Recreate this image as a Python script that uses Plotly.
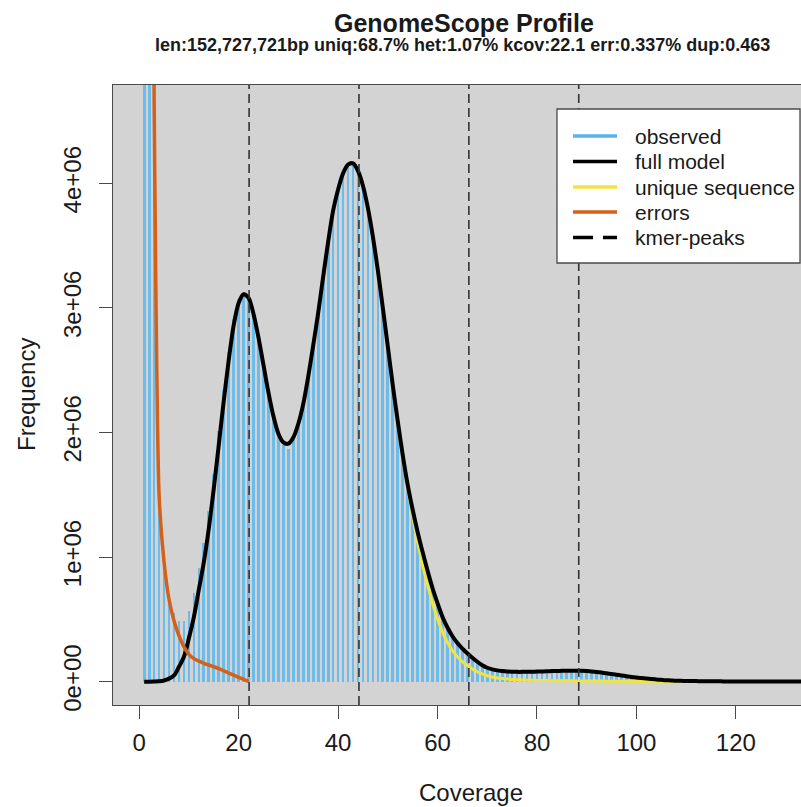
import plotly.graph_objects as go

# ---------------- data (frequencies in millions of k-mers) ----------------
coverage = list(range(1, 136))

observed = [
    45.0, 14.0, 4.60, 1.52, 0.98, 0.69, 0.55, 0.49, 0.49, 0.57,
    0.71, 0.91, 1.11, 1.37, 1.67, 2.01, 2.34, 2.65, 2.91, 3.07,
    3.12, 3.08, 2.95, 2.75, 2.53, 2.31, 2.12, 1.98, 1.90, 1.87,
    1.94, 2.06, 2.23, 2.45, 2.70, 2.95, 3.25, 3.53, 3.78, 3.95,
    4.08, 4.15, 4.16, 4.10, 3.98, 3.80, 3.57, 3.30, 3.00, 2.69,
    2.38, 2.09, 1.82, 1.57, 1.37, 1.19, 1.03, 0.88, 0.74, 0.62,
    0.51, 0.42, 0.35, 0.30, 0.25, 0.22, 0.18, 0.15, 0.125, 0.105,
    0.093, 0.086, 0.081, 0.078, 0.076, 0.075, 0.075, 0.076, 0.077, 0.078,
    0.079, 0.080, 0.081, 0.082, 0.083, 0.084, 0.084, 0.084, 0.083, 0.081,
    0.078, 0.074, 0.069, 0.064, 0.058, 0.053, 0.047, 0.041, 0.036, 0.031,
    0.027, 0.023, 0.020, 0.017, 0.014, 0.012, 0.010, 0.008, 0.007, 0.006,
    0.005, 0.005, 0.004, 0.004, 0.003, 0.003, 0.003, 0.002, 0.002, 0.002,
    0.002, 0.001, 0.001, 0.001, 0.001, 0.001, 0.001, 0.001, 0.001, 0.001,
    0.001, 0.001, 0.001, 0.001, 0.001,
]

full_model = [
    0.000, 0.000, 0.001, 0.003, 0.010, 0.025, 0.050, 0.120, 0.200, 0.350,
    0.520, 0.740, 0.960, 1.230, 1.550, 1.900, 2.250, 2.580, 2.860, 3.040,
    3.110, 3.080, 2.950, 2.760, 2.540, 2.320, 2.130, 1.990, 1.920, 1.910,
    1.960, 2.070, 2.230, 2.450, 2.700, 2.960, 3.250, 3.530, 3.780, 3.950,
    4.080, 4.150, 4.160, 4.100, 3.980, 3.800, 3.570, 3.300, 3.000, 2.690,
    2.380, 2.090, 1.820, 1.580, 1.380, 1.200, 1.040, 0.890, 0.750, 0.630,
    0.520, 0.435, 0.365, 0.310, 0.265, 0.228, 0.192, 0.160, 0.132, 0.112,
    0.099, 0.091, 0.086, 0.082, 0.080, 0.079, 0.079, 0.080, 0.080, 0.081,
    0.082, 0.083, 0.085, 0.086, 0.087, 0.088, 0.088, 0.088, 0.087, 0.085,
    0.082, 0.078, 0.073, 0.067, 0.062, 0.056, 0.050, 0.044, 0.038, 0.033,
    0.029, 0.025, 0.021, 0.018, 0.015, 0.012, 0.010, 0.008, 0.007, 0.006,
    0.005, 0.005, 0.004, 0.004, 0.003, 0.003, 0.003, 0.002, 0.002, 0.002,
    0.002, 0.001, 0.001, 0.001, 0.001, 0.001, 0.001, 0.001, 0.001, 0.001,
    0.001, 0.001, 0.001, 0.001, 0.001,
]

unique_sequence = [
    0.000, 0.000, 0.001, 0.003, 0.010, 0.025, 0.050, 0.120, 0.200, 0.350,
    0.520, 0.740, 0.960, 1.230, 1.550, 1.900, 2.250, 2.580, 2.860, 3.040,
    3.110, 3.080, 2.950, 2.760, 2.540, 2.320, 2.130, 1.990, 1.920, 1.910,
    1.960, 2.070, 2.230, 2.450, 2.700, 2.960, 3.250, 3.530, 3.780, 3.950,
    4.080, 4.150, 4.160, 4.100, 3.980, 3.800, 3.570, 3.300, 3.000, 2.690,
    2.380, 2.085, 1.805, 1.550, 1.325, 1.120, 0.935, 0.775, 0.630, 0.505,
    0.400, 0.315, 0.250, 0.200, 0.162, 0.130, 0.103, 0.080, 0.062, 0.048,
    0.038, 0.030, 0.025, 0.021, 0.018, 0.016, 0.014, 0.012, 0.011, 0.010,
    0.009, 0.009, 0.008, 0.008, 0.007, 0.007, 0.007, 0.006, 0.006, 0.006,
    0.005, 0.005, 0.005, 0.004, 0.004, 0.004, 0.004, 0.003, 0.003, 0.003,
    0.003, 0.002, 0.002, 0.002, 0.002, 0.002, 0.002, 0.002, 0.001, 0.001,
    0.001, 0.001, 0.001, 0.001, 0.001, 0.001, 0.001, 0.001, 0.001, 0.001,
    0.001, 0.001, 0.001, 0.001, 0.001, 0.001, 0.001, 0.001, 0.001, 0.001,
    0.001, 0.001, 0.001, 0.001, 0.001,
]

error_coverage = list(range(1, 23))
errors = [
    40.0, 15.0, 4.70, 1.50, 0.96, 0.66, 0.49, 0.37, 0.28, 0.22,
    0.185, 0.165, 0.148, 0.134, 0.120, 0.105, 0.088, 0.070, 0.052, 0.035,
    0.018, 0.003,
]

kmer_peaks = [22.1, 44.2, 66.3, 88.4]

x_ticks = [0, 20, 40, 60, 80, 100, 120]
y_ticks = [0, 1, 2, 3, 4]
y_tick_labels = ["0e+00", "1e+06", "2e+06", "3e+06", "4e+06"]

legend_names = ["observed", "full model", "unique sequence", "errors", "kmer-peaks"]

title = "GenomeScope Profile"
subtitle = "len:152,727,721bp uniq:68.7% het:1.07% kcov:22.1 err:0.337% dup:0.463"

# ---------------- styling ----------------
C_HIST = "#6BBCEB"
C_LEG_HIST = "#56B4E9"
C_FULL = "#000000"
C_UNIQUE = "#F0E442"
C_ERR = "#D5601A"
C_BG = "#D3D3D3"
C_FRAME = "#4a4a4a"
FONT = "Liberation Sans, Arial, Helvetica, sans-serif"

W, H = 801, 807
L, R, T, B = 113, 0, 85, 102
PW, PH = W - L - R, H - T - B


def px(x):
    return (x - L) / PW


def py(y):
    return (H - B - y) / PH


fig = go.Figure()
fig.add_trace(go.Bar(x=coverage, y=observed, width=0.55, marker_color=C_HIST,
                     marker_line_width=0, showlegend=False))
fig.add_trace(go.Scatter(x=coverage, y=unique_sequence, mode="lines",
                         line=dict(color=C_UNIQUE, width=3, shape="spline", smoothing=0.8),
                         showlegend=False))
fig.add_trace(go.Scatter(x=coverage, y=full_model, mode="lines",
                         line=dict(color=C_FULL, width=4, shape="spline", smoothing=0.8),
                         showlegend=False))
fig.add_trace(go.Scatter(x=error_coverage, y=errors, mode="lines",
                         line=dict(color=C_ERR, width=3.5, shape="spline", smoothing=0.6),
                         showlegend=False))

shapes = []
for p in kmer_peaks:
    shapes.append(dict(type="line", xref="x", yref="paper", x0=p, x1=p, y0=0, y1=1,
                       line=dict(color="#333333", width=1.6, dash="9px,5px"), layer="above"))

# legend box (drawn manually)
shapes.append(dict(type="rect", xref="paper", yref="paper",
                   x0=px(557), x1=px(800), y0=py(263), y1=py(109),
                   fillcolor="white", line=dict(color=C_FRAME, width=1.3), layer="above"))
leg_colors = [C_LEG_HIST, C_FULL, C_UNIQUE, C_ERR, C_FULL]
leg_y = [136, 161.5, 187, 212, 237.5]
annotations = []
for name, col, yy in zip(legend_names, leg_colors, leg_y):
    dash = "20px,10px" if name == "kmer-peaks" else "solid"
    shapes.append(dict(type="line", xref="paper", yref="paper",
                       x0=px(573), x1=px(617), y0=py(yy), y1=py(yy),
                       line=dict(color=col, width=3.5, dash=dash), layer="above"))
    annotations.append(dict(xref="paper", yref="paper", x=px(633), y=py(yy),
                            text=name, showarrow=False, xanchor="left", yanchor="middle",
                            font=dict(family=FONT, size=21, color="#1a1a1a")))

annotations += [
    dict(xref="paper", yref="paper", x=px(464), y=py(23), text="<b>" + title + "</b>",
         showarrow=False, xanchor="center", yanchor="middle",
         font=dict(family=FONT, size=25, color="#1a1a1a")),
    dict(xref="paper", yref="paper", x=px(462), y=py(45), text="<b>" + subtitle + "</b>",
         showarrow=False, xanchor="center", yanchor="middle",
         font=dict(family=FONT, size=18, color="#1a1a1a")),
    dict(xref="paper", yref="paper", x=px(471), y=py(792), text="Coverage",
         showarrow=False, xanchor="center", yanchor="middle",
         font=dict(family=FONT, size=24, color="#1a1a1a")),
    dict(xref="paper", yref="paper", x=px(26), y=py(395), text="Frequency",
         showarrow=False, xanchor="center", yanchor="middle", textangle=-90,
         font=dict(family=FONT, size=24, color="#1a1a1a")),
]

fig.update_layout(
    width=W, height=H,
    margin=dict(l=L, r=R, t=T, b=B, pad=0),
    paper_bgcolor="white", plot_bgcolor=C_BG,
    bargap=0, showlegend=False,
    shapes=shapes, annotations=annotations,
    font=dict(family=FONT, size=24, color="#1a1a1a"),
)
fig.update_xaxes(range=[-5.27, 133.1], tickvals=x_ticks, ticks="outside", ticklen=13,
                 tickwidth=1.3, tickcolor=C_FRAME, showline=True, linecolor=C_FRAME,
                 linewidth=1.3, mirror=True, showgrid=False, zeroline=False,
                 tickfont=dict(family=FONT, size=24, color="#1a1a1a"), ticklabelstandoff=3)
fig.update_yaxes(range=[-0.187, 4.789], tickvals=y_ticks, ticktext=y_tick_labels,
                 tickangle=-90, ticks="outside", ticklen=13, tickwidth=1.3,
                 tickcolor=C_FRAME, showline=True, linecolor=C_FRAME, linewidth=1.3,
                 mirror=False, showgrid=False, zeroline=False,
                 tickfont=dict(family=FONT, size=24, color="#1a1a1a"), ticklabelstandoff=8)

fig.write_html("out.html")
